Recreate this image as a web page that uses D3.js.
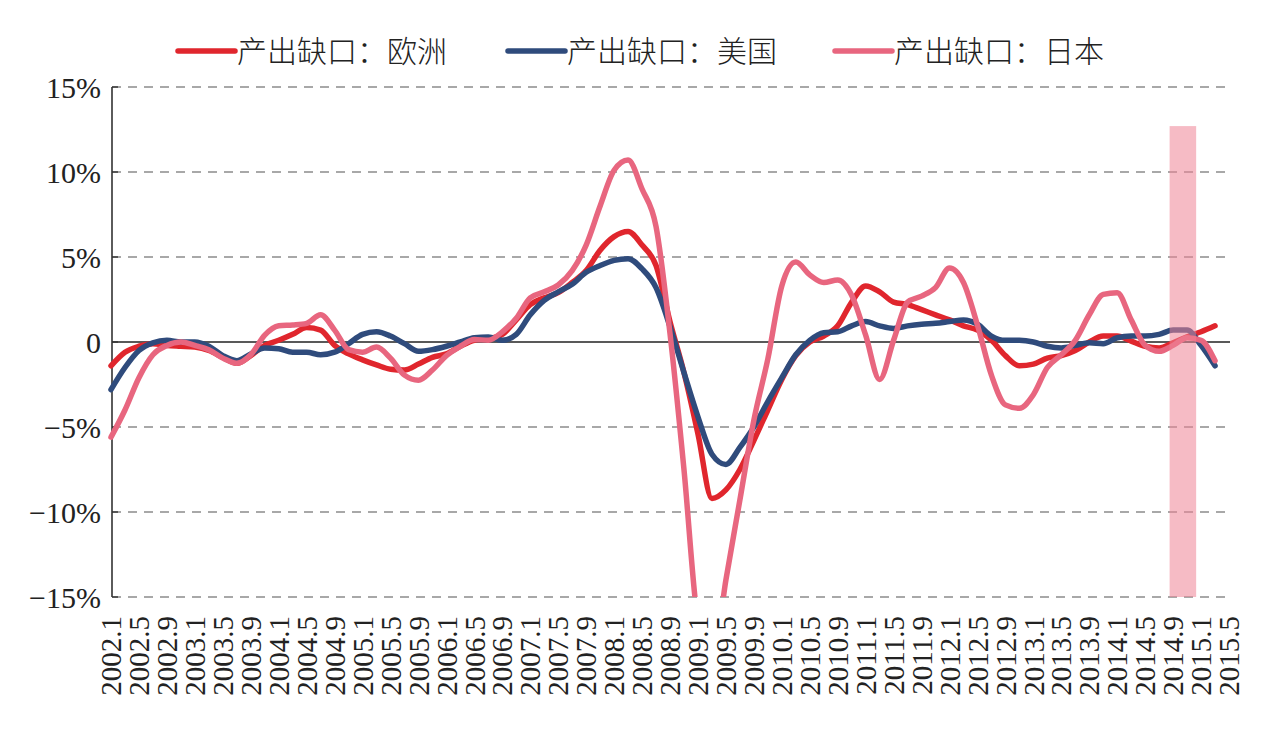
<!DOCTYPE html>
<html>
<head>
<meta charset="utf-8">
<script src="https://cdn.jsdelivr.net/npm/d3@7"></script>
<style>
  body { margin: 0; background: #fff; }
  text { font-family: "Liberation Serif", "Noto Sans CJK SC", serif; fill: #222; }
</style>
</head>
<body>
<svg id="chart" width="1277" height="738"></svg>
<script>
// months counted from 2002.1, one value every 2 months (2002.1, 2002.3, ...)
const seriesNames = ["产出缺口：欧洲", "产出缺口：美国", "产出缺口：日本"];
const seriesColors = ["#e0262d", "#2f4b7c", "#e8667f"];

const europeGap = [
  -1.4, -0.6, -0.25, -0.1, -0.2, -0.25,
  -0.3, -0.5, -0.9, -1.25, -0.8, -0.2,
  0.1, 0.45, 0.85, 0.7, -0.2, -0.7,
  -1.05, -1.35, -1.6, -1.65, -1.3, -0.9,
  -0.7, -0.25, 0.1, 0.2, 0.45, 1.3,
  2.2, 2.6, 2.9, 3.5, 4.2, 5.4,
  6.2, 6.5, 5.7, 4.5, 1.2, -1.8,
  -5.4, -9.2, -8.7, -7.5, -5.8, -4.0,
  -2.2, -0.8, 0.0, 0.35, 0.95, 2.35,
  3.3, 2.95, 2.35, 2.2, 1.9, 1.6,
  1.3, 0.95, 0.7, 0.1, -0.8, -1.4,
  -1.3, -0.95, -0.8, -0.5, 0.0, 0.35,
  0.35, 0.05, -0.25, -0.35, -0.05, 0.3,
  0.6, 0.95
];

const usGap = [
  -2.8, -1.5, -0.5, -0.05, 0.1, 0.0,
  0.0, -0.25, -0.8, -1.1, -0.7, -0.35,
  -0.4, -0.6, -0.6, -0.75, -0.6, -0.1,
  0.45, 0.6, 0.35, -0.1, -0.55, -0.45,
  -0.25, 0.0, 0.25, 0.3, 0.1, 0.45,
  1.6, 2.45, 2.95, 3.4, 4.1, 4.5,
  4.8, 4.9, 4.3, 3.2, 0.9, -1.8,
  -4.4, -6.6, -7.2, -6.2, -5.0, -3.5,
  -2.1, -0.75, 0.1, 0.55, 0.6, 0.95,
  1.2, 0.95, 0.8, 0.95, 1.05, 1.1,
  1.2, 1.3, 1.05, 0.35, 0.1, 0.1,
  0.0, -0.25, -0.35, -0.2, -0.05, -0.1,
  0.25, 0.35, 0.35, 0.45, 0.7, 0.7,
  -0.2, -1.4
];

const japanGap = [
  -5.6, -4.0, -2.1, -0.75, -0.2, 0.0,
  -0.2, -0.45, -0.95, -1.25, -0.75, 0.4,
  0.95, 1.0, 1.1, 1.6, 0.7, -0.45,
  -0.6, -0.3, -0.95, -1.95, -2.25, -1.65,
  -0.8, -0.25, 0.15, 0.1, 0.6, 1.4,
  2.6, 2.95, 3.35, 4.2, 5.7, 8.0,
  10.1, 10.7, 9.0, 6.8, 0.5, -7.5,
  -16.5, -19.0, -14.0, -9.3, -4.6, -1.0,
  3.3, 4.7, 3.95, 3.5, 3.65, 2.75,
  0.4, -2.2, 0.1, 2.35, 2.7, 3.2,
  4.35, 3.5, 1.0, -1.95, -3.7, -3.9,
  -3.1, -1.5, -0.75, 0.1, 1.6, 2.8,
  2.9, 1.3, -0.2, -0.55, -0.2, 0.25,
  0.1, -1.1
];

const yTicks = [15, 10, 5, 0, -5, -10, -15];
const yTickLabels = ["15%", "10%", "5%", "0", "−5%", "−10%", "−15%"];
// tick labels every 4 months from 2002.1 to 2015.5
const xTickMonths = d3.range(0, 161, 4);
const xTickLabels = xTickMonths.map(m => `${2002 + Math.floor(m / 12)}.${(m % 12) + 1}`);

// highlighted window (months since 2002.1) and its top value
const bandStart = 151.5, bandEnd = 155.3, bandTop = 12.7;

const svg = d3.select('#chart');
svg.append('rect').attr('width', 1277).attr('height', 738).attr('fill', '#fff');

const x = d3.scaleLinear().domain([0, 160]).range([111, 1229]);
const y = d3.scaleLinear().domain([-15, 15]).range([597, 87]);
const plotRight = 1230;

// grid
svg.append('g').selectAll('line')
  .data(yTicks.filter(d => d !== 0))
  .join('line')
  .attr('x1', 112).attr('x2', plotRight)
  .attr('y1', d => y(d)).attr('y2', d => y(d))
  .attr('stroke', '#8c8c8c').attr('stroke-width', 1.5)
  .attr('stroke-dasharray', '9,7');

svg.append('line')
  .attr('x1', 112).attr('x2', plotRight)
  .attr('y1', y(0)).attr('y2', y(0))
  .attr('stroke', '#222').attr('stroke-width', 1.6);

// y axis
const yAxis = svg.append('g').attr('transform', 'translate(112,0)');
yAxis.append('line').attr('y1', y(15)).attr('y2', y(-15))
  .attr('stroke', '#333').attr('stroke-width', 1.6);
yAxis.selectAll('line.tick').data(yTicks).join('line')
  .attr('class', 'tick')
  .attr('x1', 0).attr('x2', 6)
  .attr('y1', d => y(d)).attr('y2', d => y(d))
  .attr('stroke', '#333').attr('stroke-width', 1.4);
yAxis.selectAll('text').data(yTicks).join('text')
  .attr('x', -11).attr('y', d => y(d)).attr('dy', '0.35em')
  .attr('text-anchor', 'end')
  .style('font-size', '30px')
  .text((d, i) => yTickLabels[i]);

// x labels
svg.append('g').selectAll('text').data(xTickMonths).join('text')
  .attr('transform', d => `translate(${x(d)},616) rotate(-90)`)
  .attr('dy', '0.35em')
  .attr('text-anchor', 'end')
  .style('font-size', '29px')
  .text((d, i) => xTickLabels[i]);

// lines
svg.append('defs').append('clipPath').attr('id', 'plot-clip')
  .append('rect').attr('x', 100).attr('y', y(15)).attr('width', 1150).attr('height', y(-15) - y(15));

const line = d3.line()
  .x((d, i) => x(i * 2))
  .y(d => y(d))
  .curve(d3.curveMonotoneX);

const allSeries = [europeGap, usGap, japanGap];
svg.append('g').attr('clip-path', 'url(#plot-clip)')
  .selectAll('path')
  .data(allSeries)
  .join('path')
  .attr('fill', 'none')
  .attr('stroke', (d, i) => seriesColors[i])
  .attr('stroke-width', 5.5)
  .attr('stroke-linejoin', 'round')
  .attr('stroke-linecap', 'round')
  .attr('d', d => line(d));

// highlight band on top
svg.append('rect')
  .attr('x', x(bandStart)).attr('width', x(bandEnd) - x(bandStart))
  .attr('y', y(bandTop)).attr('height', y(-15) - y(bandTop))
  .attr('fill', '#ee8395').attr('opacity', 0.55);

// legend
const legendX = [178, 508, 835];
const legend = svg.append('g').selectAll('g').data(seriesNames).join('g')
  .attr('transform', (d, i) => `translate(${legendX[i]},51)`);
legend.append('line')
  .attr('x1', 0).attr('x2', 57)
  .attr('stroke', (d, i) => seriesColors[i])
  .attr('stroke-width', 5.5).attr('stroke-linecap', 'round');
legend.append('text')
  .attr('x', 59).attr('y', 0).attr('dy', '0.36em')
  .style('font-family', '"Noto Sans CJK SC", sans-serif')
  .style('font-size', '30px')
  .style('font-weight', 300)
  .text(d => d);
</script>
</body>
</html>
